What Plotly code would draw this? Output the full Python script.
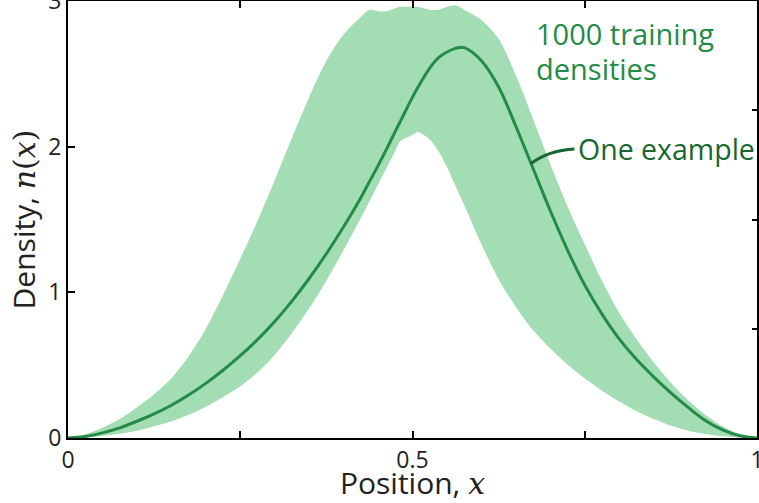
import numpy as np
import plotly.graph_objects as go

# Position grid along the domain
x_pos = [0.000, 0.025, 0.050, 0.075, 0.100, 0.125, 0.150, 0.175, 0.200, 0.225,
         0.250, 0.275, 0.300, 0.325, 0.350, 0.375, 0.400, 0.425, 0.4375, 0.450,
         0.4625, 0.475, 0.4825, 0.500, 0.5075, 0.525, 0.5375, 0.550, 0.5625, 0.575,
         0.600, 0.625, 0.650, 0.675, 0.700, 0.725, 0.750, 0.775, 0.800, 0.825,
         0.850, 0.875, 0.900, 0.925, 0.950, 0.975, 1.000]

# Upper envelope of the training densities
band_upper = [0.000, 0.025, 0.070, 0.130, 0.210, 0.300, 0.410, 0.560, 0.750, 0.980,
              1.230, 1.490, 1.770, 2.060, 2.340, 2.590, 2.770, 2.890, 2.940, 2.930,
              2.930, 2.950, 2.960, 2.960, 2.960, 2.940, 2.940, 2.960, 2.970, 2.940,
              2.870, 2.740, 2.490, 2.190, 1.880, 1.590, 1.330, 1.080, 0.860, 0.680,
              0.520, 0.380, 0.260, 0.160, 0.080, 0.025, 0.000]

# Lower envelope of the training densities
band_lower = [0.000, 0.004, 0.015, 0.030, 0.050, 0.080, 0.115, 0.160, 0.215, 0.280,
              0.355, 0.450, 0.570, 0.720, 0.890, 1.080, 1.290, 1.510, 1.625, 1.740,
              1.855, 1.970, 2.040, 2.080, 2.100, 2.050, 1.970, 1.860, 1.730, 1.600,
              1.330, 1.090, 0.900, 0.740, 0.615, 0.505, 0.410, 0.325, 0.250, 0.185,
              0.130, 0.085, 0.050, 0.027, 0.012, 0.003, 0.000]

# A single example density
example = [0.000, 0.010, 0.035, 0.070, 0.115, 0.165, 0.225, 0.295, 0.375, 0.465,
           0.565, 0.675, 0.800, 0.940, 1.095, 1.265, 1.450, 1.650, 1.760, 1.870,
           1.985, 2.105, 2.175, 2.340, 2.405, 2.540, 2.610, 2.650, 2.675, 2.680,
           2.590, 2.410, 2.140, 1.850, 1.560, 1.290, 1.050, 0.850, 0.680, 0.540,
           0.420, 0.310, 0.210, 0.120, 0.055, 0.015, 0.000]

x_ticks = [0, 0.25, 0.5, 0.75, 1]
x_tick_text = ["0", "", "0.5", "", "1"]
y_ticks = [0, 1, 2, 3]
y_right_ticks = [0.75, 1.5, 2.25]

band_color = "#a2ddb3"
line_color = "#238b45"
label_dark = "#17672f"
sans = "Open Sans"
math = "<span style=\"font-family:'DejaVu Serif';font-style:italic\">{}</span>"
paren = "<span style=\"font-family:'DejaVu Serif'\">{}</span>"

fig = go.Figure()

fig.add_trace(go.Scatter(
    x=x_pos, y=band_lower, mode="lines",
    line=dict(width=0, color=band_color, shape="spline", smoothing=0.8),
    hoverinfo="skip", showlegend=False))
fig.add_trace(go.Scatter(
    x=x_pos, y=band_upper, mode="lines", fill="tonexty", fillcolor=band_color,
    line=dict(width=0, color=band_color, shape="spline", smoothing=0.8),
    hoverinfo="skip", showlegend=False))
fig.add_trace(go.Scatter(
    x=x_pos, y=example, mode="lines",
    line=dict(width=3, color=line_color, shape="spline", smoothing=1.0),
    showlegend=False))

# invisible trace to carry the right-hand tick marks
fig.add_trace(go.Scatter(x=[0, 1], y=[0, 0], yaxis="y2", mode="lines",
                         line=dict(width=0), hoverinfo="skip", showlegend=False))

# curved pointer from the example curve to its label
px0 = 0.672
py0 = float(np.interp(px0, x_pos, example))
fig.add_shape(type="path",
              path=f"M {px0},{py0} Q 0.697,{py0 + 0.09} 0.735,{py0 + 0.10}",
              line=dict(color=label_dark, width=3))

fig.add_annotation(x=0.737, y=py0 + 0.10, text="One example", showarrow=False,
                   xanchor="left", yanchor="middle",
                   font=dict(family=sans, size=28.5, color=label_dark))
fig.add_annotation(x=0.677, y=2.78, text="1000 training", showarrow=False,
                   xanchor="left", yanchor="middle",
                   font=dict(family=sans, size=29, color=line_color))
fig.add_annotation(x=0.677, y=2.535, text="densities", showarrow=False,
                   xanchor="left", yanchor="middle",
                   font=dict(family=sans, size=29, color=line_color))

axis_common = dict(showgrid=False, zeroline=False, showline=True, linecolor="black",
                   linewidth=2, ticks="inside", tickcolor="black", tickwidth=1.5,
                   ticklabeloverflow="allow", automargin=False)

fig.update_layout(
    width=759, height=503,
    margin=dict(l=68, r=2, t=1, b=65),
    paper_bgcolor="white", plot_bgcolor="white",
    font=dict(family=sans, color="#222222"),
    xaxis=dict(range=[0, 1], tickvals=x_ticks, ticktext=x_tick_text, ticklen=7,
               mirror="ticks", tickfont=dict(size=23),
               title=dict(text="Position, " + math.format("x"), font=dict(size=30),
                          standoff=2),
               **axis_common),
    yaxis=dict(range=[0, 3], tickvals=y_ticks, ticklen=7, mirror=True,
               tickfont=dict(size=23),
               title=dict(text="Density, " + math.format("n") + paren.format("(")
                          + math.format("x") + paren.format(")"),
                          font=dict(size=30), standoff=4),
               **axis_common),
    yaxis2=dict(range=[0, 3], overlaying="y", side="right", anchor="x",
                tickvals=y_right_ticks, showticklabels=False, ticks="inside",
                ticklen=5, tickcolor="black", tickwidth=1.5, showgrid=False,
                zeroline=False, showline=False, automargin=False),
)

fig.write_html("out.html")
